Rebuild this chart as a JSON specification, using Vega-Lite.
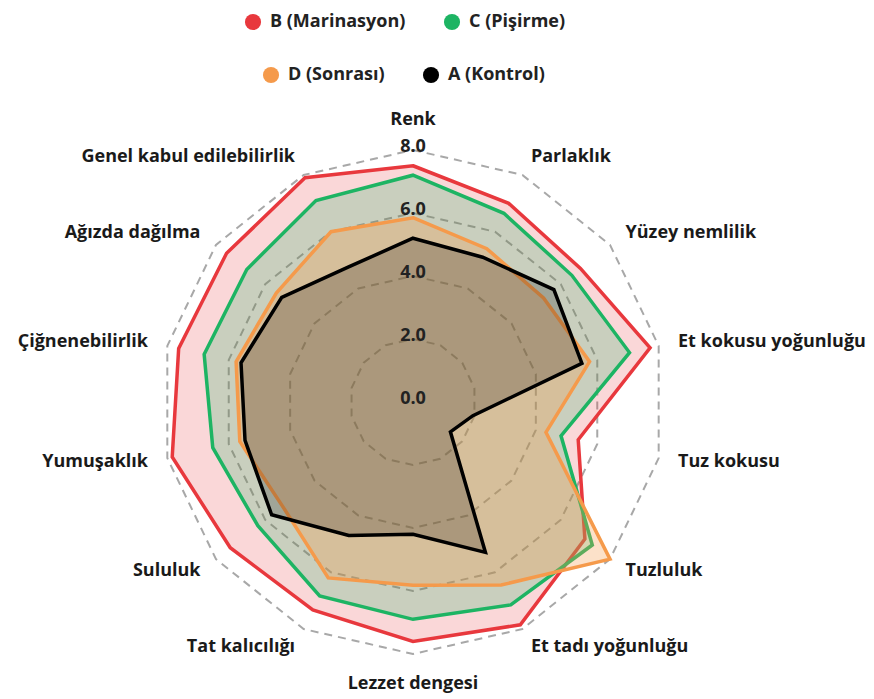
{
  "$schema": "https://vega.github.io/schema/vega-lite/v6.json",
  "width": 874,
  "height": 699,
  "autosize": {"type": "none"},
  "padding": 0,
  "background": "white",
  "config": {"view": {"stroke": null}},
  "datasets": {
    "axes": [
      {"attr": "Renk", "idx": 0, "levels": [2, 4, 6, 8]},
      {"attr": "Parlaklık", "idx": 1, "levels": [2, 4, 6, 8]},
      {"attr": "Yüzey nemlilik", "idx": 2, "levels": [2, 4, 6, 8]},
      {"attr": "Et kokusu yoğunluğu", "idx": 3, "levels": [2, 4, 6, 8]},
      {"attr": "Tuz kokusu", "idx": 4, "levels": [2, 4, 6, 8]},
      {"attr": "Tuzluluk", "idx": 5, "levels": [2, 4, 6, 8]},
      {"attr": "Et tadı yoğunluğu", "idx": 6, "levels": [2, 4, 6, 8]},
      {"attr": "Lezzet dengesi", "idx": 7, "levels": [2, 4, 6, 8]},
      {"attr": "Tat kalıcılığı", "idx": 8, "levels": [2, 4, 6, 8]},
      {"attr": "Sululuk", "idx": 9, "levels": [2, 4, 6, 8]},
      {"attr": "Yumuşaklık", "idx": 10, "levels": [2, 4, 6, 8]},
      {"attr": "Çiğnenebilirlik", "idx": 11, "levels": [2, 4, 6, 8]},
      {"attr": "Ağızda dağılma", "idx": 12, "levels": [2, 4, 6, 8]},
      {"attr": "Genel kabul edilebilirlik", "idx": 13, "levels": [2, 4, 6, 8]}
    ],
    "rticks": [
      {"v": 0, "label": "0.0"},
      {"v": 2, "label": "2.0"},
      {"v": 4, "label": "4.0"},
      {"v": 6, "label": "6.0"},
      {"v": 8, "label": "8.0"}
    ],
    "scores": [
      {"series": "B (Marinasyon)", "attr": "Renk", "idx": 0, "value": 7.5},
      {"series": "B (Marinasyon)", "attr": "Parlaklık", "idx": 1, "value": 7.0},
      {"series": "B (Marinasyon)", "attr": "Yüzey nemlilik", "idx": 2, "value": 6.8},
      {"series": "B (Marinasyon)", "attr": "Et kokusu yoğunluğu", "idx": 3, "value": 7.72},
      {"series": "B (Marinasyon)", "attr": "Tuz kokusu", "idx": 4, "value": 5.38},
      {"series": "B (Marinasyon)", "attr": "Tuzluluk", "idx": 5, "value": 6.98},
      {"series": "B (Marinasyon)", "attr": "Et tadı yoğunluğu", "idx": 6, "value": 7.85},
      {"series": "B (Marinasyon)", "attr": "Lezzet dengesi", "idx": 7, "value": 7.6},
      {"series": "B (Marinasyon)", "attr": "Tat kalıcılığı", "idx": 8, "value": 7.33},
      {"series": "B (Marinasyon)", "attr": "Sululuk", "idx": 9, "value": 7.42},
      {"series": "B (Marinasyon)", "attr": "Yumuşaklık", "idx": 10, "value": 7.84},
      {"series": "B (Marinasyon)", "attr": "Çiğnenebilirlik", "idx": 11, "value": 7.63},
      {"series": "B (Marinasyon)", "attr": "Ağızda dağılma", "idx": 12, "value": 7.57},
      {"series": "B (Marinasyon)", "attr": "Genel kabul edilebilirlik", "idx": 13, "value": 7.9},
      {"series": "C (Pişirme)", "attr": "Renk", "idx": 0, "value": 7.2},
      {"series": "C (Pişirme)", "attr": "Parlaklık", "idx": 1, "value": 6.65},
      {"series": "C (Pişirme)", "attr": "Yüzey nemlilik", "idx": 2, "value": 6.45},
      {"series": "C (Pişirme)", "attr": "Et kokusu yoğunluğu", "idx": 3, "value": 7.05},
      {"series": "C (Pişirme)", "attr": "Tuz kokusu", "idx": 4, "value": 4.82},
      {"series": "C (Pişirme)", "attr": "Tuzluluk", "idx": 5, "value": 7.28},
      {"series": "C (Pişirme)", "attr": "Et tadı yoğunluğu", "idx": 6, "value": 7.15},
      {"series": "C (Pişirme)", "attr": "Lezzet dengesi", "idx": 7, "value": 6.9},
      {"series": "C (Pişirme)", "attr": "Tat kalıcılığı", "idx": 8, "value": 6.83},
      {"series": "C (Pişirme)", "attr": "Sululuk", "idx": 9, "value": 6.3},
      {"series": "C (Pişirme)", "attr": "Yumuşaklık", "idx": 10, "value": 6.52},
      {"series": "C (Pişirme)", "attr": "Çiğnenebilirlik", "idx": 11, "value": 6.8},
      {"series": "C (Pişirme)", "attr": "Ağızda dağılma", "idx": 12, "value": 6.75},
      {"series": "C (Pişirme)", "attr": "Genel kabul edilebilirlik", "idx": 13, "value": 7.1},
      {"series": "D (Sonrası)", "attr": "Renk", "idx": 0, "value": 5.85},
      {"series": "D (Sonrası)", "attr": "Parlaklık", "idx": 1, "value": 5.4},
      {"series": "D (Sonrası)", "attr": "Yüzey nemlilik", "idx": 2, "value": 5.3},
      {"series": "D (Sonrası)", "attr": "Et kokusu yoğunluğu", "idx": 3, "value": 5.75},
      {"series": "D (Sonrası)", "attr": "Tuz kokusu", "idx": 4, "value": 4.33},
      {"series": "D (Sonrası)", "attr": "Tuzluluk", "idx": 5, "value": 8.0},
      {"series": "D (Sonrası)", "attr": "Et tadı yoğunluğu", "idx": 6, "value": 6.45},
      {"series": "D (Sonrası)", "attr": "Lezzet dengesi", "idx": 7, "value": 5.82},
      {"series": "D (Sonrası)", "attr": "Tat kalıcılığı", "idx": 8, "value": 6.2},
      {"series": "D (Sonrası)", "attr": "Sululuk", "idx": 9, "value": 5.3},
      {"series": "D (Sonrası)", "attr": "Yumuşaklık", "idx": 10, "value": 5.64},
      {"series": "D (Sonrası)", "attr": "Çiğnenebilirlik", "idx": 11, "value": 5.76},
      {"series": "D (Sonrası)", "attr": "Ağızda dağılma", "idx": 12, "value": 5.55},
      {"series": "D (Sonrası)", "attr": "Genel kabul edilebilirlik", "idx": 13, "value": 6.0},
      {"series": "A (Kontrol)", "attr": "Renk", "idx": 0, "value": 5.2},
      {"series": "A (Kontrol)", "attr": "Parlaklık", "idx": 1, "value": 5.1},
      {"series": "A (Kontrol)", "attr": "Yüzey nemlilik", "idx": 2, "value": 5.72},
      {"series": "A (Kontrol)", "attr": "Et kokusu yoğunluğu", "idx": 3, "value": 5.5},
      {"series": "A (Kontrol)", "attr": "Tuz kokusu", "idx": 4, "value": 1.95},
      {"series": "A (Kontrol)", "attr": "Tuzluluk", "idx": 5, "value": 1.52},
      {"series": "A (Kontrol)", "attr": "Et tadı yoğunluğu", "idx": 6, "value": 5.3},
      {"series": "A (Kontrol)", "attr": "Lezzet dengesi", "idx": 7, "value": 4.2},
      {"series": "A (Kontrol)", "attr": "Tat kalıcılığı", "idx": 8, "value": 4.7},
      {"series": "A (Kontrol)", "attr": "Sululuk", "idx": 9, "value": 5.74},
      {"series": "A (Kontrol)", "attr": "Yumuşaklık", "idx": 10, "value": 5.47},
      {"series": "A (Kontrol)", "attr": "Çiğnenebilirlik", "idx": 11, "value": 5.6},
      {"series": "A (Kontrol)", "attr": "Ağızda dağılma", "idx": 12, "value": 5.33},
      {"series": "A (Kontrol)", "attr": "Genel kabul edilebilirlik", "idx": 13, "value": 4.75}
    ]
  },
  "encoding": {
    "x": {"field": "px", "type": "quantitative", "scale": {"domain": [-13.111, 14.635], "nice": false, "zero": false}, "axis": null},
    "y": {"field": "py", "type": "quantitative", "scale": {"domain": [-9.429, 12.762], "nice": false, "zero": false}, "axis": null}
  },
  "layer": [
    {
      "data": {"name": "axes"},
      "transform": [
        {"calculate": "datum.idx * 2 * PI / 14", "as": "theta"},
        {"calculate": "8 * sin(datum.theta)", "as": "ex"},
        {"calculate": "8 * cos(datum.theta)", "as": "ey"}
      ],
      "mark": {"type": "rule", "stroke": "#a3a3a3", "strokeWidth": 1.6},
      "encoding": {
        "x": {"datum": 0},
        "y": {"datum": 0},
        "x2": {"field": "ex"},
        "y2": {"field": "ey"}
      }
    },
    {
      "data": {"name": "axes"},
      "transform": [
        {"flatten": ["levels"], "as": ["level"]},
        {"calculate": "datum.idx * 2 * PI / 14", "as": "theta"},
        {"calculate": "datum.level * sin(datum.theta)", "as": "px"},
        {"calculate": "datum.level * cos(datum.theta)", "as": "py"}
      ],
      "mark": {"type": "line", "interpolate": "linear-closed", "stroke": "#a8a8a8", "strokeWidth": 2, "strokeDash": [8, 6]},
      "encoding": {
        "detail": {"field": "level", "type": "nominal"},
        "order": {"field": "idx", "type": "quantitative"}
      }
    },
    {
      "data": {"name": "scores"},
      "transform": [
        {"filter": "datum.series === 'B (Marinasyon)'"},
        {"calculate": "datum.idx * 2 * PI / 14", "as": "theta"},
        {"calculate": "datum.value * sin(datum.theta)", "as": "px"},
        {"calculate": "datum.value * cos(datum.theta)", "as": "py"}
      ],
      "mark": {"type": "line", "interpolate": "linear-closed", "fill": "#e8383d", "fillOpacity": 0.2, "stroke": "#e8383d", "strokeWidth": 3.5, "strokeJoin": "miter"},
      "encoding": {"order": {"field": "idx", "type": "quantitative"}}
    },
    {
      "data": {"name": "scores"},
      "transform": [
        {"filter": "datum.series === 'C (Pişirme)'"},
        {"calculate": "datum.idx * 2 * PI / 14", "as": "theta"},
        {"calculate": "datum.value * sin(datum.theta)", "as": "px"},
        {"calculate": "datum.value * cos(datum.theta)", "as": "py"}
      ],
      "mark": {"type": "line", "interpolate": "linear-closed", "fill": "#1db463", "fillOpacity": 0.22, "stroke": "#1db463", "strokeWidth": 3.5, "strokeJoin": "miter"},
      "encoding": {"order": {"field": "idx", "type": "quantitative"}}
    },
    {
      "data": {"name": "scores"},
      "transform": [
        {"filter": "datum.series === 'D (Sonrası)'"},
        {"calculate": "datum.idx * 2 * PI / 14", "as": "theta"},
        {"calculate": "datum.value * sin(datum.theta)", "as": "px"},
        {"calculate": "datum.value * cos(datum.theta)", "as": "py"}
      ],
      "mark": {"type": "line", "interpolate": "linear-closed", "fill": "#f59a4b", "fillOpacity": 0.3, "stroke": "#f59a4b", "strokeWidth": 3.5, "strokeJoin": "miter"},
      "encoding": {"order": {"field": "idx", "type": "quantitative"}}
    },
    {
      "data": {"name": "scores"},
      "transform": [
        {"filter": "datum.series === 'A (Kontrol)'"},
        {"calculate": "datum.idx * 2 * PI / 14", "as": "theta"},
        {"calculate": "datum.value * sin(datum.theta)", "as": "px"},
        {"calculate": "datum.value * cos(datum.theta)", "as": "py"}
      ],
      "mark": {"type": "line", "interpolate": "linear-closed", "fill": "#000000", "fillOpacity": 0.2, "stroke": "#000000", "strokeWidth": 3.5, "strokeJoin": "miter"},
      "encoding": {"order": {"field": "idx", "type": "quantitative"}}
    },
    {
      "data": {"name": "rticks"},
      "transform": [
        {"calculate": "0", "as": "px"},
        {"calculate": "datum.v", "as": "py"}
      ],
      "mark": {"type": "text", "font": "Open Sans", "fontSize": 18, "fontWeight": 700, "color": "#222222", "baseline": "middle", "align": "center", "dy": -3},
      "encoding": {
        "text": {"field": "label", "type": "nominal"}
      }
    },
    {
      "data": {"name": "axes"},
      "transform": [
        {"filter": "datum.idx >= 1 && datum.idx <= 6"},
        {"calculate": "datum.idx * 2 * PI / 14", "as": "theta"},
        {"calculate": "8.63 * sin(datum.theta)", "as": "px"},
        {"calculate": "8.63 * cos(datum.theta)", "as": "py"}
      ],
      "mark": {"type": "text", "font": "Open Sans", "fontSize": 18, "fontWeight": 700, "color": "#1a1a1a", "baseline": "middle", "align": "left"},
      "encoding": {"text": {"field": "attr", "type": "nominal"}}
    },
    {
      "data": {"name": "axes"},
      "transform": [
        {"filter": "datum.idx >= 8"},
        {"calculate": "datum.idx * 2 * PI / 14", "as": "theta"},
        {"calculate": "8.63 * sin(datum.theta)", "as": "px"},
        {"calculate": "8.63 * cos(datum.theta)", "as": "py"}
      ],
      "mark": {"type": "text", "font": "Open Sans", "fontSize": 18, "fontWeight": 700, "color": "#1a1a1a", "baseline": "middle", "align": "right"},
      "encoding": {"text": {"field": "attr", "type": "nominal"}}
    },
    {
      "data": {"name": "axes"},
      "transform": [
        {"filter": "datum.idx == 0 || datum.idx == 7"},
        {"calculate": "datum.idx * 2 * PI / 14", "as": "theta"},
        {"calculate": "8.95 * sin(datum.theta)", "as": "px"},
        {"calculate": "8.95 * cos(datum.theta)", "as": "py"}
      ],
      "mark": {"type": "text", "font": "Open Sans", "fontSize": 18, "fontWeight": 700, "color": "#1a1a1a", "baseline": "middle", "align": "center"},
      "encoding": {"text": {"field": "attr", "type": "nominal"}}
    },
    {
      "data": {"name": "scores"},
      "transform": [
        {"filter": "datum.idx == 0 && (datum.series === 'B (Marinasyon)' || datum.series === 'C (Pişirme)')"},
        {"calculate": "0", "as": "px"},
        {"calculate": "datum.value", "as": "py"}
      ],
      "mark": {"type": "point", "filled": true, "opacity": 0},
      "encoding": {
        "color": {
          "field": "series", "type": "nominal",
          "scale": {"domain": ["B (Marinasyon)", "C (Pişirme)"], "range": ["#e8383d", "#1db463"]},
          "legend": {"title": null, "orient": "none", "legendX": 244, "legendY": 13, "direction": "horizontal", "symbolType": "circle", "symbolSize": 260, "symbolOpacity": 1, "symbolStrokeWidth": 0, "labelFont": "Open Sans", "labelFontSize": 18, "labelFontWeight": 700, "labelColor": "#222222", "labelOffset": 8, "columnPadding": 37, "padding": 0}
        }
      }
    },
    {
      "data": {"name": "scores"},
      "transform": [
        {"filter": "datum.idx == 0 && (datum.series === 'D (Sonrası)' || datum.series === 'A (Kontrol)')"},
        {"calculate": "0", "as": "px"},
        {"calculate": "datum.value", "as": "py"}
      ],
      "mark": {"type": "point", "filled": true, "opacity": 0},
      "encoding": {
        "fill": {
          "field": "series", "type": "nominal",
          "scale": {"domain": ["D (Sonrası)", "A (Kontrol)"], "range": ["#f59a4b", "#000000"]},
          "legend": {"title": null, "orient": "none", "legendX": 262, "legendY": 66, "direction": "horizontal", "symbolType": "circle", "symbolSize": 260, "symbolOpacity": 1, "symbolStrokeWidth": 0, "labelFont": "Open Sans", "labelFontSize": 18, "labelFontWeight": 700, "labelColor": "#222222", "labelOffset": 8, "columnPadding": 37, "padding": 0}
        }
      }
    }
  ]
}
